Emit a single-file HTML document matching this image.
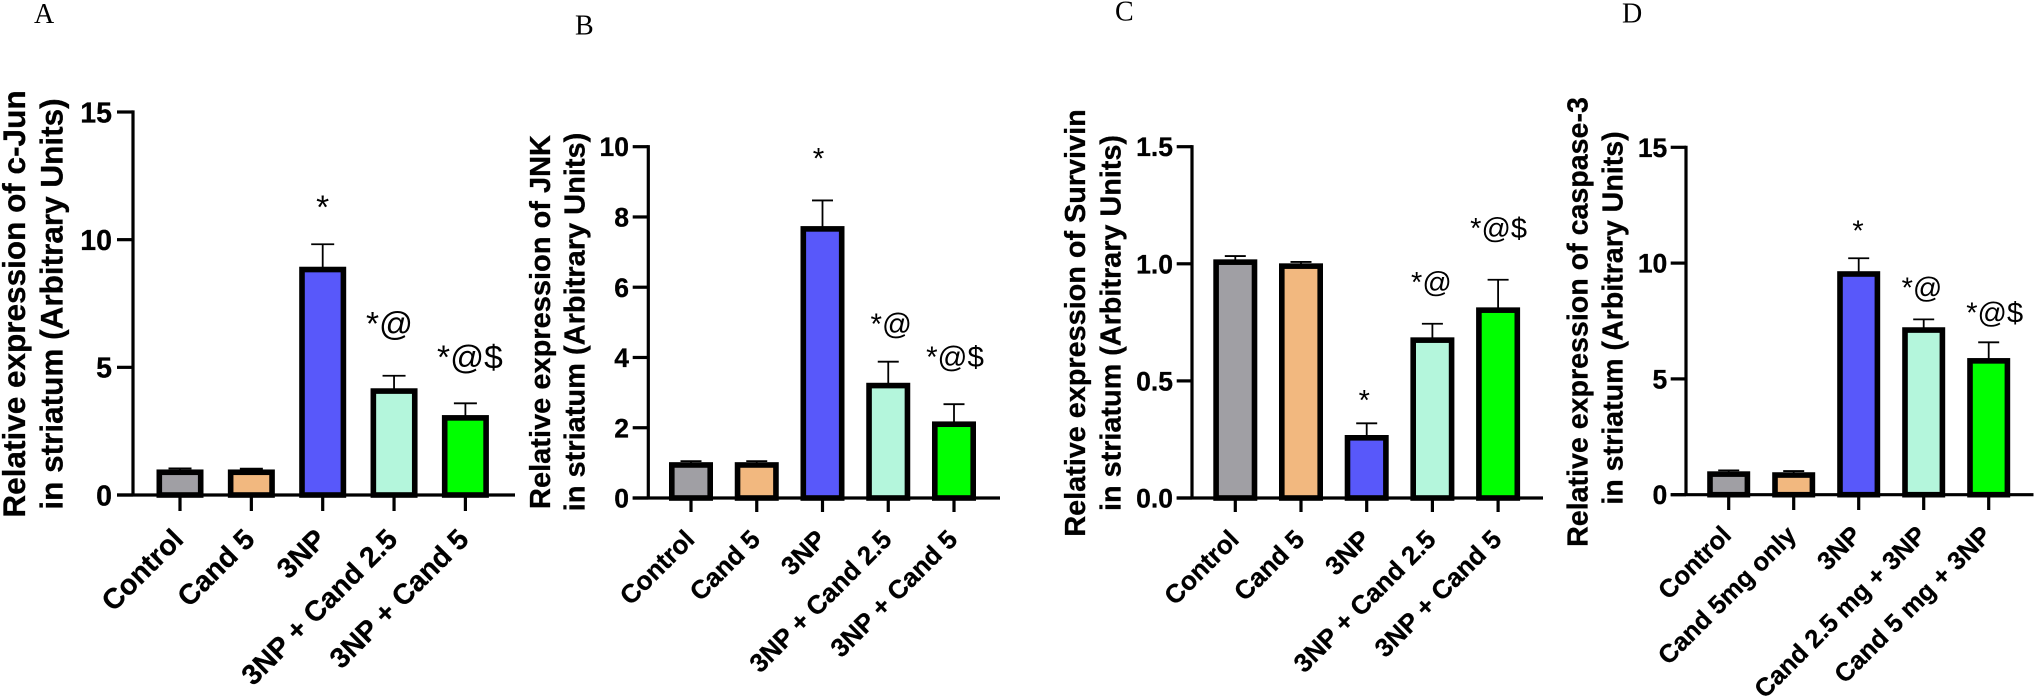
<!DOCTYPE html>
<html lang="en">
<head>
<meta charset="utf-8">
<title>Relative expression in striatum</title>
<style>
html,body{margin:0;padding:0;background:#fff;}
body{width:2034px;height:698px;overflow:hidden;}
svg{display:block;}
text{fill:#000;}
.sans{font-family:"Liberation Sans",Arial,sans-serif;}
.bold{font-family:"Liberation Sans",Arial,sans-serif;font-weight:700;stroke:#000;stroke-width:0.3px;}
.serif{font-family:"Liberation Serif","Times New Roman",serif;}
</style>
</head>
<body>
<svg id="figure" width="2034" height="698" viewBox="0 0 2034 698" xmlns="http://www.w3.org/2000/svg"></svg>
<script>
/* ---------- shared data ---------- */
const barColors = ['#a09fa4', '#f2b87f', '#5858fa', '#b4f6dc', '#00ff00'];
const categoriesStandard = ['Control', 'Cand 5', '3NP', '3NP + Cand 2.5', '3NP + Cand 5'];
const categoriesCaspase = ['Control', 'Cand 5mg only', '3NP', 'Cand 2.5 mg + 3NP', 'Cand 5 mg + 3NP'];
const significance = ['', '', '*', '*@', '*@$'];

/* ---------- panel A : c-Jun ---------- */
const cJunValues = [1.00, 1.00, 8.94, 4.18, 3.13];
const cJunErrors = [0.04, 0.03, 0.88, 0.49, 0.46];
const cJunTicks = [0, 5, 10, 15];
const cJunTickLabels = ['0', '5', '10', '15'];

/* ---------- panel B : JNK ---------- */
const jnkValues = [1.02, 1.02, 7.74, 3.28, 2.18];
const jnkErrors = [0.03, 0.03, 0.73, 0.60, 0.49];
const jnkTicks = [0, 2, 4, 6, 8, 10];
const jnkTickLabels = ['0', '2', '4', '6', '8', '10'];

/* ---------- panel C : Survivin ---------- */
const survivinValues = [1.019, 1.002, 0.269, 0.686, 0.814];
const survivinErrors = [0.014, 0.006, 0.050, 0.058, 0.118];
const survivinTicks = [0, 0.5, 1, 1.5];
const survivinTickLabels = ['0.0', '0.5', '1.0', '1.5'];

/* ---------- panel D : caspase-3 ---------- */
const caspaseValues = [1.01, 0.97, 9.65, 7.23, 5.90];
const caspaseErrors = [0.04, 0.05, 0.56, 0.34, 0.68];
const caspaseTicks = [0, 5, 10, 15];
const caspaseTickLabels = ['0', '5', '10', '15'];

/* ---------- layout (geometry only) ---------- */
const panels = [
  {id:'a', letter:'A', letterX:34, letterY:23,
   title:['Relative expression of c-Jun','in striatum (Arbitrary Units)'],
   titleBase:[25,62.7], titleMid:[304,304], titleSize:31.5,
   categories:categoriesStandard, values:cJunValues, errors:cJunErrors, ticks:cJunTicks, tickLabels:cJunTickLabels,
   axisX:133, y0:495, yTop:112, maxV:15, left:117, right:515, tickBottom:511,
   cx0:180, step:71.35, barW:47, capW:23, tickSize:28.5, tickEnd:112, catSize:28.5, catDx:5, catDy:46,
   noteSize:33.5, noteGap:[0,0,26,40.7,35], noteDx:[0,0,0,-4.5,4.5]},
  {id:'b', letter:'B', letterX:575, letterY:34.5,
   title:['Relative expression of JNK','in striatum (Arbitrary Units)'],
   titleBase:[550,584.5], titleMid:[322,322], titleSize:29,
   categories:categoriesStandard, values:jnkValues, errors:jnkErrors, ticks:jnkTicks, tickLabels:jnkTickLabels,
   axisX:648.3, y0:498, yTop:146.7, maxV:10, left:632.7, right:1000, tickBottom:512,
   cx0:691, step:65.75, barW:44, capW:21, tickSize:26.5, tickEnd:629, catSize:26, catDx:5, catDy:43,
   noteSize:29.5, noteGap:[0,0,32,27.7,37.3], noteDx:[0,0,-4,3,1]},
  {id:'c', letter:'C', letterX:1115, letterY:20.7,
   title:['Relative expression of Survivin','in striatum (Arbitrary Units)'],
   titleBase:[1085,1120.7], titleMid:[323,323], titleSize:28.8,
   categories:categoriesStandard, values:survivinValues, errors:survivinErrors, ticks:survivinTicks, tickLabels:survivinTickLabels,
   axisX:1192, y0:498, yTop:146.7, maxV:1.5, left:1176.7, right:1543, tickBottom:512,
   cx0:1235.3, step:65.7, barW:44, capW:21, tickSize:26.5, tickEnd:1173, catSize:26, catDx:5, catDy:43,
   noteSize:29, noteGap:[0,0,13.5,31.7,41.7], noteDx:[0,0,-2.4,-1,0.5]},
  {id:'d', letter:'D', letterX:1622, letterY:22.3,
   title:['Relative expression of caspase-3','in striatum (Arbitrary Units)'],
   titleBase:[1587.7,1622.7], titleMid:[322,318], titleSize:28.6,
   categories:categoriesCaspase, values:caspaseValues, errors:caspaseErrors, ticks:caspaseTicks, tickLabels:caspaseTickLabels,
   axisX:1686, y0:494.7, yTop:147.3, maxV:15, left:1670.7, right:2033.5, tickBottom:510,
   cx0:1728.7, step:65, barW:43, capW:21, tickSize:26.5, tickEnd:1667.3, catSize:25.5, catDx:4, catDy:42,
   noteSize:29, noteGap:[0,0,17.5,22,20], noteDx:[0,0,-0.7,-1.7,6]}
];

const BAR_STROKE = 5.6;
const NS = 'http://www.w3.org/2000/svg';
const svg = document.getElementById('figure');

function make(tag, attrs, parent, text) {
  const el = document.createElementNS(NS, tag);
  for (const k in attrs) el.setAttribute(k, attrs[k]);
  if (text !== undefined) el.textContent = text;
  parent.appendChild(el);
  return el;
}

function drawPanel(p) {
  const yScale = v => p.y0 - (v / p.maxV) * (p.y0 - p.yTop);
  const xScale = i => p.cx0 + i * p.step;
  const half = BAR_STROKE / 2;

  const g = make('g', {}, svg);
  
  

  const letter = make('text', {x:p.letterX, y:p.letterY, class:'serif', 'font-size':28}, g, p.letter);
  
  

  p.title.forEach((line, i) => {
    const t = make('text', {
      class:'bold', 'font-size':p.titleSize, 'text-anchor':'middle',
      transform:'translate(' + p.titleBase[i] + ',' + p.titleMid[i] + ') rotate(-90)'
    }, g, line);
    
    
  });

  /* bars and error bars */
  p.values.forEach((v, i) => {
    const cx = xScale(i);
    const top = yScale(v);
    const errTop = yScale(v + p.errors[i]);

    const stem = make('line', {x1:cx, x2:cx, y1:top + 2, y2:errTop, stroke:'#000', 'stroke-width':1.8}, g);
    
    

    const cap = make('line', {x1:cx - p.capW / 2, x2:cx + p.capW / 2, y1:errTop, y2:errTop, stroke:'#000', 'stroke-width':1.8}, g);
    
    

    const bar = make('rect', {
      x:cx - p.barW / 2 + half, y:top + half, width:p.barW - BAR_STROKE, height:Math.max(p.y0 - top - half, 0),
      fill:barColors[i], stroke:'#000', 'stroke-width':BAR_STROKE
    }, g);
    
    

    if (significance[i]) {
      const note = make('text', {
        x:cx + p.noteDx[i], y:errTop - p.noteGap[i], class:'sans', 'font-size':p.noteSize, 'text-anchor':'middle'
      }, g, significance[i]);
      
      
    }

    const tick = make('line', {x1:cx, x2:cx, y1:p.y0, y2:p.tickBottom, stroke:'#000', 'stroke-width':3.2}, g);
    
    

    const cat = make('text', {
      class:'bold', 'font-size':p.catSize, 'text-anchor':'end',
      transform:'translate(' + (cx + p.catDx) + ',' + (p.y0 + p.catDy) + ') rotate(-45)'
    }, g, p.categories[i]);
    
    
  });

  /* axes */
  const yAxis = make('line', {x1:p.axisX, x2:p.axisX, y1:p.yTop - 1.6, y2:p.y0, stroke:'#000', 'stroke-width':3.2}, g);
  
  

  const xAxis = make('line', {x1:p.left, x2:p.right, y1:p.y0, y2:p.y0, stroke:'#000', 'stroke-width':3.2}, g);
  
  

  p.ticks.forEach((v, i) => {
    const y = yScale(v);
    const tick = make('line', {x1:p.left, x2:p.axisX, y1:y, y2:y, stroke:'#000', 'stroke-width':3.2}, g);
    
    

    const label = make('text', {
      x:p.tickEnd, y:y + p.tickSize * 0.36, class:'bold', 'font-size':p.tickSize, 'text-anchor':'end'
    }, g, p.tickLabels[i]);
    
    
  });
}

panels.forEach(drawPanel);
</script>
</body>
</html>
